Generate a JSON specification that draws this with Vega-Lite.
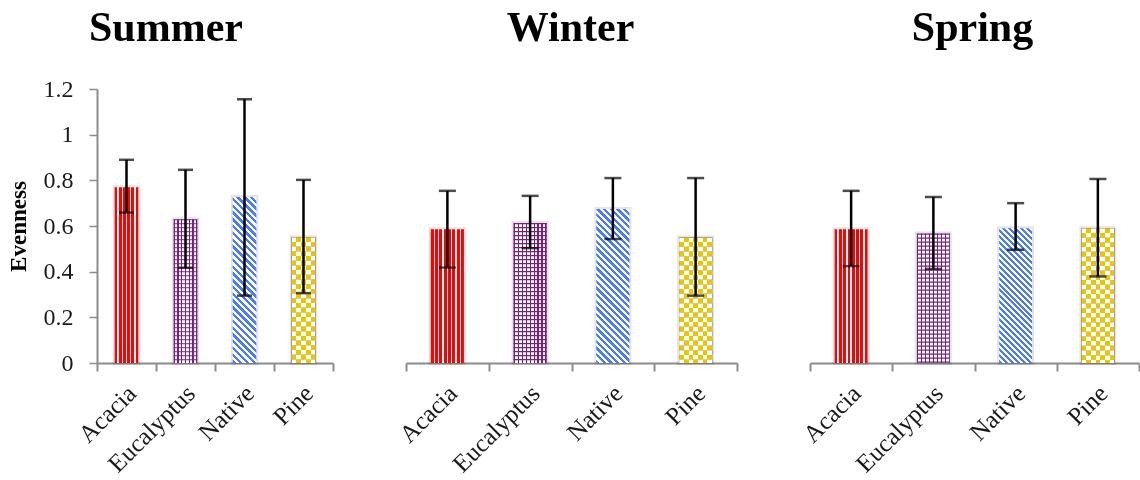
{
  "$schema": "https://vega.github.io/schema/vega-lite/v6.json",
  "background": "white",
  "padding": {"left": 7, "top": 7, "right": 0, "bottom": 0},
  "spacing": 73,
  "bounds": "flush",
  "config": {
    "view": {"stroke": null},
    "font": "Liberation Serif",
    "title": {"font": "Liberation Serif", "fontSize": 42, "fontWeight": "bold", "color": "#000000", "anchor": "middle", "frame": "group", "baseline": "alphabetic", "offset": 39},
    "axisX": {"domainColor": "#8c8c8c", "domainWidth": 2, "tickColor": "#8c8c8c", "tickWidth": 2, "tickSize": 8, "tickBand": "extent", "labelAngle": -45, "labelAlign": "right", "labelBaseline": "middle", "labelFont": "Liberation Serif", "labelFontSize": 25, "labelColor": "#1a1a1a", "labelPadding": 18, "labelOffset": 5, "title": null, "grid": false},
    "axisY": {"domainColor": "#8c8c8c", "domainWidth": 2, "tickColor": "#8c8c8c", "tickWidth": 1.5, "tickSize": 8, "labelFont": "Liberation Serif", "labelFontSize": 24, "labelColor": "#1a1a1a", "labelPadding": 16, "grid": false, "titleFont": "Liberation Serif", "titleFontWeight": "bold", "titleFontSize": 23, "titleColor": "#000000", "titlePadding": 13}
  },
  "data": {"values": [
    {"season": "Summer", "forest": "Acacia", "value": 0.77, "lo": 0.659, "hi": 0.89},
    {"season": "Summer", "forest": "Eucalyptus", "value": 0.63, "lo": 0.417, "hi": 0.846},
    {"season": "Summer", "forest": "Native", "value": 0.727, "lo": 0.295, "hi": 1.155},
    {"season": "Summer", "forest": "Pine", "value": 0.551, "lo": 0.306, "hi": 0.802},
    {"season": "Winter", "forest": "Acacia", "value": 0.586, "lo": 0.418, "hi": 0.754},
    {"season": "Winter", "forest": "Eucalyptus", "value": 0.613, "lo": 0.503, "hi": 0.732},
    {"season": "Winter", "forest": "Native", "value": 0.674, "lo": 0.543, "hi": 0.81},
    {"season": "Winter", "forest": "Pine", "value": 0.55, "lo": 0.295, "hi": 0.81},
    {"season": "Spring", "forest": "Acacia", "value": 0.586, "lo": 0.424, "hi": 0.754},
    {"season": "Spring", "forest": "Eucalyptus", "value": 0.567, "lo": 0.412, "hi": 0.727},
    {"season": "Spring", "forest": "Native", "value": 0.59, "lo": 0.496, "hi": 0.7},
    {"season": "Spring", "forest": "Pine", "value": 0.59, "lo": 0.379, "hi": 0.806}
  ]},
  "hconcat": [
    {
      "width": 236, "height": 274,
      "title": {"text": "Summer", "dx": -49, "offset": 27},
      "transform": [{"filter": "datum.season === 'Summer'"}],
      "encoding": {
        "x": {"field": "forest", "type": "nominal", "scale": {"domain": ["Acacia", "Eucalyptus", "Native", "Pine"], "paddingInner": 0, "paddingOuter": 0}},
        "y": {"field": "value", "type": "quantitative", "scale": {"domain": [0, 1.2], "nice": false}, "axis": {"title": "Evenness", "values": [0, 0.2, 0.4, 0.6, 0.8, 1, 1.2], "format": "~g"}}
      },
      "layer": [
        {"mark": {"type": "bar", "width": {"band": 0.4}, "fill": "#ffffff", "stroke": "#000000", "strokeOpacity": 0.1, "strokeWidth": 4}},
        {"transform": [{"filter": "datum.forest === 'Acacia'"}], "mark": {"type": "bar", "width": {"band": 0.4}, "fill": {"gradient": "linear", "x1": 0, "y1": 0, "x2": 1, "y2": 0, "stops": [{"offset": 0, "color": "#ff0000"}, {"offset": 0.1152, "color": "#ff0000"}, {"offset": 0.1152, "color": "#ffffff"}, {"offset": 0.177, "color": "#ffffff"}, {"offset": 0.177, "color": "#ff0000"}, {"offset": 0.2922, "color": "#ff0000"}, {"offset": 0.2922, "color": "#ffffff"}, {"offset": 0.3539, "color": "#ffffff"}, {"offset": 0.3539, "color": "#ff0000"}, {"offset": 0.4691, "color": "#ff0000"}, {"offset": 0.4691, "color": "#ffffff"}, {"offset": 0.5309, "color": "#ffffff"}, {"offset": 0.5309, "color": "#ff0000"}, {"offset": 0.6461, "color": "#ff0000"}, {"offset": 0.6461, "color": "#ffffff"}, {"offset": 0.7078, "color": "#ffffff"}, {"offset": 0.7078, "color": "#ff0000"}, {"offset": 0.823, "color": "#ff0000"}, {"offset": 0.823, "color": "#ffffff"}, {"offset": 0.8848, "color": "#ffffff"}, {"offset": 0.8848, "color": "#ff0000"}, {"offset": 1, "color": "#ff0000"}]}}},
        {"transform": [{"filter": "datum.forest === 'Eucalyptus'"}], "mark": {"type": "bar", "width": {"band": 0.4}, "fill": {"gradient": "linear", "x1": 0, "y1": 0, "x2": 1, "y2": 0, "stops": [{"offset": 0, "color": "#7a1f80"}, {"offset": 0.0508, "color": "#7a1f80"}, {"offset": 0.0508, "color": "#ffffff"}, {"offset": 0.1582, "color": "#ffffff"}, {"offset": 0.1582, "color": "#7a1f80"}, {"offset": 0.209, "color": "#7a1f80"}, {"offset": 0.209, "color": "#ffffff"}, {"offset": 0.3164, "color": "#ffffff"}, {"offset": 0.3164, "color": "#7a1f80"}, {"offset": 0.3672, "color": "#7a1f80"}, {"offset": 0.3672, "color": "#ffffff"}, {"offset": 0.4746, "color": "#ffffff"}, {"offset": 0.4746, "color": "#7a1f80"}, {"offset": 0.5254, "color": "#7a1f80"}, {"offset": 0.5254, "color": "#ffffff"}, {"offset": 0.6328, "color": "#ffffff"}, {"offset": 0.6328, "color": "#7a1f80"}, {"offset": 0.6836, "color": "#7a1f80"}, {"offset": 0.6836, "color": "#ffffff"}, {"offset": 0.791, "color": "#ffffff"}, {"offset": 0.791, "color": "#7a1f80"}, {"offset": 0.8418, "color": "#7a1f80"}, {"offset": 0.8418, "color": "#ffffff"}, {"offset": 0.9492, "color": "#ffffff"}, {"offset": 0.9492, "color": "#7a1f80"}, {"offset": 1, "color": "#7a1f80"}]}}},
        {"transform": [{"filter": "datum.forest === 'Eucalyptus'"}], "mark": {"type": "rule", "stroke": "#7a1f80", "strokeWidth": 23.6, "strokeDash": [1.2, 2.8], "strokeCap": "butt"}, "encoding": {"y2": {"datum": 0}}},
        {"transform": [{"filter": "datum.forest === 'Native'"}], "mark": {"type": "bar", "width": {"band": 0.4}, "fill": {"gradient": "linear", "x1": 0, "y1": 1, "x2": 0.1592, "y2": -0.1195, "stops": [{"offset": 0, "color": "#4a7aff"}, {"offset": 0.017857, "color": "#4a7aff"}, {"offset": 0.017857, "color": "#ffffff"}, {"offset": 0.035714, "color": "#ffffff"}, {"offset": 0.035714, "color": "#4a7aff"}, {"offset": 0.053571, "color": "#4a7aff"}, {"offset": 0.053571, "color": "#ffffff"}, {"offset": 0.071429, "color": "#ffffff"}, {"offset": 0.071429, "color": "#4a7aff"}, {"offset": 0.089286, "color": "#4a7aff"}, {"offset": 0.089286, "color": "#ffffff"}, {"offset": 0.107143, "color": "#ffffff"}, {"offset": 0.107143, "color": "#4a7aff"}, {"offset": 0.125, "color": "#4a7aff"}, {"offset": 0.125, "color": "#ffffff"}, {"offset": 0.142857, "color": "#ffffff"}, {"offset": 0.142857, "color": "#4a7aff"}, {"offset": 0.160714, "color": "#4a7aff"}, {"offset": 0.160714, "color": "#ffffff"}, {"offset": 0.178571, "color": "#ffffff"}, {"offset": 0.178571, "color": "#4a7aff"}, {"offset": 0.196429, "color": "#4a7aff"}, {"offset": 0.196429, "color": "#ffffff"}, {"offset": 0.214286, "color": "#ffffff"}, {"offset": 0.214286, "color": "#4a7aff"}, {"offset": 0.232143, "color": "#4a7aff"}, {"offset": 0.232143, "color": "#ffffff"}, {"offset": 0.25, "color": "#ffffff"}, {"offset": 0.25, "color": "#4a7aff"}, {"offset": 0.267857, "color": "#4a7aff"}, {"offset": 0.267857, "color": "#ffffff"}, {"offset": 0.285714, "color": "#ffffff"}, {"offset": 0.285714, "color": "#4a7aff"}, {"offset": 0.303571, "color": "#4a7aff"}, {"offset": 0.303571, "color": "#ffffff"}, {"offset": 0.321429, "color": "#ffffff"}, {"offset": 0.321429, "color": "#4a7aff"}, {"offset": 0.339286, "color": "#4a7aff"}, {"offset": 0.339286, "color": "#ffffff"}, {"offset": 0.357143, "color": "#ffffff"}, {"offset": 0.357143, "color": "#4a7aff"}, {"offset": 0.375, "color": "#4a7aff"}, {"offset": 0.375, "color": "#ffffff"}, {"offset": 0.392857, "color": "#ffffff"}, {"offset": 0.392857, "color": "#4a7aff"}, {"offset": 0.410714, "color": "#4a7aff"}, {"offset": 0.410714, "color": "#ffffff"}, {"offset": 0.428571, "color": "#ffffff"}, {"offset": 0.428571, "color": "#4a7aff"}, {"offset": 0.446429, "color": "#4a7aff"}, {"offset": 0.446429, "color": "#ffffff"}, {"offset": 0.464286, "color": "#ffffff"}, {"offset": 0.464286, "color": "#4a7aff"}, {"offset": 0.482143, "color": "#4a7aff"}, {"offset": 0.482143, "color": "#ffffff"}, {"offset": 0.5, "color": "#ffffff"}, {"offset": 0.5, "color": "#4a7aff"}, {"offset": 0.517857, "color": "#4a7aff"}, {"offset": 0.517857, "color": "#ffffff"}, {"offset": 0.535714, "color": "#ffffff"}, {"offset": 0.535714, "color": "#4a7aff"}, {"offset": 0.553571, "color": "#4a7aff"}, {"offset": 0.553571, "color": "#ffffff"}, {"offset": 0.571429, "color": "#ffffff"}, {"offset": 0.571429, "color": "#4a7aff"}, {"offset": 0.589286, "color": "#4a7aff"}, {"offset": 0.589286, "color": "#ffffff"}, {"offset": 0.607143, "color": "#ffffff"}, {"offset": 0.607143, "color": "#4a7aff"}, {"offset": 0.625, "color": "#4a7aff"}, {"offset": 0.625, "color": "#ffffff"}, {"offset": 0.642857, "color": "#ffffff"}, {"offset": 0.642857, "color": "#4a7aff"}, {"offset": 0.660714, "color": "#4a7aff"}, {"offset": 0.660714, "color": "#ffffff"}, {"offset": 0.678571, "color": "#ffffff"}, {"offset": 0.678571, "color": "#4a7aff"}, {"offset": 0.696429, "color": "#4a7aff"}, {"offset": 0.696429, "color": "#ffffff"}, {"offset": 0.714286, "color": "#ffffff"}, {"offset": 0.714286, "color": "#4a7aff"}, {"offset": 0.732143, "color": "#4a7aff"}, {"offset": 0.732143, "color": "#ffffff"}, {"offset": 0.75, "color": "#ffffff"}, {"offset": 0.75, "color": "#4a7aff"}, {"offset": 0.767857, "color": "#4a7aff"}, {"offset": 0.767857, "color": "#ffffff"}, {"offset": 0.785714, "color": "#ffffff"}, {"offset": 0.785714, "color": "#4a7aff"}, {"offset": 0.803571, "color": "#4a7aff"}, {"offset": 0.803571, "color": "#ffffff"}, {"offset": 0.821429, "color": "#ffffff"}, {"offset": 0.821429, "color": "#4a7aff"}, {"offset": 0.839286, "color": "#4a7aff"}, {"offset": 0.839286, "color": "#ffffff"}, {"offset": 0.857143, "color": "#ffffff"}, {"offset": 0.857143, "color": "#4a7aff"}, {"offset": 0.875, "color": "#4a7aff"}, {"offset": 0.875, "color": "#ffffff"}, {"offset": 0.892857, "color": "#ffffff"}, {"offset": 0.892857, "color": "#4a7aff"}, {"offset": 0.910714, "color": "#4a7aff"}, {"offset": 0.910714, "color": "#ffffff"}, {"offset": 0.928571, "color": "#ffffff"}, {"offset": 0.928571, "color": "#4a7aff"}, {"offset": 0.946429, "color": "#4a7aff"}, {"offset": 0.946429, "color": "#ffffff"}, {"offset": 0.964286, "color": "#ffffff"}, {"offset": 0.964286, "color": "#4a7aff"}, {"offset": 0.982143, "color": "#4a7aff"}, {"offset": 0.982143, "color": "#ffffff"}, {"offset": 1, "color": "#ffffff"}]}}},
        {"transform": [{"filter": "datum.forest === 'Pine'"}], "mark": {"type": "bar", "width": {"band": 0.4}, "fill": {"gradient": "linear", "x1": 0, "y1": 0, "x2": 1, "y2": 0, "stops": [{"offset": 0, "color": "#000000"}, {"offset": 0.2, "color": "#000000"}, {"offset": 0.2, "color": "#ffffff"}, {"offset": 0.4, "color": "#ffffff"}, {"offset": 0.4, "color": "#000000"}, {"offset": 0.6, "color": "#000000"}, {"offset": 0.6, "color": "#ffffff"}, {"offset": 0.8, "color": "#ffffff"}, {"offset": 0.8, "color": "#000000"}, {"offset": 1, "color": "#000000"}]}}},
        {"transform": [{"filter": "datum.forest === 'Pine'"}], "mark": {"type": "rule", "stroke": "#ffffff", "strokeWidth": 23.6, "strokeDash": [4.7, 4.7], "strokeCap": "butt", "blend": "difference"}, "encoding": {"y2": {"datum": 0}}},
        {"transform": [{"filter": "datum.forest === 'Pine'"}], "mark": {"type": "bar", "width": {"band": 0.4}, "fill": "#e5c800", "blend": "lighten"}},
        {"mark": {"type": "rule", "color": "#000000", "strokeWidth": 2.5}, "encoding": {"y": {"field": "lo", "type": "quantitative", "axis": {"title": "Evenness", "values": [0, 0.2, 0.4, 0.6, 0.8, 1, 1.2], "format": "~g"}}, "y2": {"field": "hi"}}},
        {"mark": {"type": "tick", "color": "#000000", "thickness": 2.5, "size": 15}, "encoding": {"y": {"field": "hi", "type": "quantitative", "axis": {"title": "Evenness", "values": [0, 0.2, 0.4, 0.6, 0.8, 1, 1.2], "format": "~g"}}}},
        {"mark": {"type": "tick", "color": "#000000", "thickness": 2.5, "size": 15}, "encoding": {"y": {"field": "lo", "type": "quantitative", "axis": {"title": "Evenness", "values": [0, 0.2, 0.4, 0.6, 0.8, 1, 1.2], "format": "~g"}}}}
      ]
    },
    {
      "width": 331, "height": 274,
      "title": {"text": "Winter", "dx": -1},
      "transform": [{"filter": "datum.season === 'Winter'"}],
      "encoding": {
        "x": {"field": "forest", "type": "nominal", "scale": {"domain": ["Acacia", "Eucalyptus", "Native", "Pine"], "paddingInner": 0, "paddingOuter": 0}},
        "y": {"field": "value", "type": "quantitative", "scale": {"domain": [0, 1.2], "nice": false}, "axis": null}
      },
      "layer": [
        {"mark": {"type": "bar", "width": {"band": 0.4}, "fill": "#ffffff", "stroke": "#000000", "strokeOpacity": 0.1, "strokeWidth": 4}},
        {"transform": [{"filter": "datum.forest === 'Acacia'"}], "mark": {"type": "bar", "width": {"band": 0.4}, "fill": {"gradient": "linear", "x1": 0, "y1": 0, "x2": 1, "y2": 0, "stops": [{"offset": 0, "color": "#ff0000"}, {"offset": 0.0851, "color": "#ff0000"}, {"offset": 0.0851, "color": "#ffffff"}, {"offset": 0.1307, "color": "#ffffff"}, {"offset": 0.1307, "color": "#ff0000"}, {"offset": 0.2158, "color": "#ff0000"}, {"offset": 0.2158, "color": "#ffffff"}, {"offset": 0.2614, "color": "#ffffff"}, {"offset": 0.2614, "color": "#ff0000"}, {"offset": 0.3465, "color": "#ff0000"}, {"offset": 0.3465, "color": "#ffffff"}, {"offset": 0.3921, "color": "#ffffff"}, {"offset": 0.3921, "color": "#ff0000"}, {"offset": 0.4772, "color": "#ff0000"}, {"offset": 0.4772, "color": "#ffffff"}, {"offset": 0.5228, "color": "#ffffff"}, {"offset": 0.5228, "color": "#ff0000"}, {"offset": 0.6079, "color": "#ff0000"}, {"offset": 0.6079, "color": "#ffffff"}, {"offset": 0.6535, "color": "#ffffff"}, {"offset": 0.6535, "color": "#ff0000"}, {"offset": 0.7386, "color": "#ff0000"}, {"offset": 0.7386, "color": "#ffffff"}, {"offset": 0.7842, "color": "#ffffff"}, {"offset": 0.7842, "color": "#ff0000"}, {"offset": 0.8693, "color": "#ff0000"}, {"offset": 0.8693, "color": "#ffffff"}, {"offset": 0.9149, "color": "#ffffff"}, {"offset": 0.9149, "color": "#ff0000"}, {"offset": 1, "color": "#ff0000"}]}}},
        {"transform": [{"filter": "datum.forest === 'Eucalyptus'"}], "mark": {"type": "bar", "width": {"band": 0.4}, "fill": {"gradient": "linear", "x1": 0, "y1": 0, "x2": 1, "y2": 0, "stops": [{"offset": 0, "color": "#7a1f80"}, {"offset": 0.0363, "color": "#7a1f80"}, {"offset": 0.0363, "color": "#ffffff"}, {"offset": 0.1205, "color": "#ffffff"}, {"offset": 0.1205, "color": "#7a1f80"}, {"offset": 0.1567, "color": "#7a1f80"}, {"offset": 0.1567, "color": "#ffffff"}, {"offset": 0.2409, "color": "#ffffff"}, {"offset": 0.2409, "color": "#7a1f80"}, {"offset": 0.2772, "color": "#7a1f80"}, {"offset": 0.2772, "color": "#ffffff"}, {"offset": 0.3614, "color": "#ffffff"}, {"offset": 0.3614, "color": "#7a1f80"}, {"offset": 0.3977, "color": "#7a1f80"}, {"offset": 0.3977, "color": "#ffffff"}, {"offset": 0.4819, "color": "#ffffff"}, {"offset": 0.4819, "color": "#7a1f80"}, {"offset": 0.5181, "color": "#7a1f80"}, {"offset": 0.5181, "color": "#ffffff"}, {"offset": 0.6024, "color": "#ffffff"}, {"offset": 0.6024, "color": "#7a1f80"}, {"offset": 0.6386, "color": "#7a1f80"}, {"offset": 0.6386, "color": "#ffffff"}, {"offset": 0.7228, "color": "#ffffff"}, {"offset": 0.7228, "color": "#7a1f80"}, {"offset": 0.7591, "color": "#7a1f80"}, {"offset": 0.7591, "color": "#ffffff"}, {"offset": 0.8433, "color": "#ffffff"}, {"offset": 0.8433, "color": "#7a1f80"}, {"offset": 0.8795, "color": "#7a1f80"}, {"offset": 0.8795, "color": "#ffffff"}, {"offset": 0.9637, "color": "#ffffff"}, {"offset": 0.9637, "color": "#7a1f80"}, {"offset": 1, "color": "#7a1f80"}]}}},
        {"transform": [{"filter": "datum.forest === 'Eucalyptus'"}], "mark": {"type": "rule", "stroke": "#7a1f80", "strokeWidth": 33.1, "strokeDash": [1.2, 2.8], "strokeCap": "butt"}, "encoding": {"y2": {"datum": 0}}},
        {"transform": [{"filter": "datum.forest === 'Native'"}], "mark": {"type": "bar", "width": {"band": 0.4}, "fill": {"gradient": "linear", "x1": 0, "y1": 1, "x2": 0.2498, "y2": -0.1613, "stops": [{"offset": 0, "color": "#4a7aff"}, {"offset": 0.017857, "color": "#4a7aff"}, {"offset": 0.017857, "color": "#ffffff"}, {"offset": 0.035714, "color": "#ffffff"}, {"offset": 0.035714, "color": "#4a7aff"}, {"offset": 0.053571, "color": "#4a7aff"}, {"offset": 0.053571, "color": "#ffffff"}, {"offset": 0.071429, "color": "#ffffff"}, {"offset": 0.071429, "color": "#4a7aff"}, {"offset": 0.089286, "color": "#4a7aff"}, {"offset": 0.089286, "color": "#ffffff"}, {"offset": 0.107143, "color": "#ffffff"}, {"offset": 0.107143, "color": "#4a7aff"}, {"offset": 0.125, "color": "#4a7aff"}, {"offset": 0.125, "color": "#ffffff"}, {"offset": 0.142857, "color": "#ffffff"}, {"offset": 0.142857, "color": "#4a7aff"}, {"offset": 0.160714, "color": "#4a7aff"}, {"offset": 0.160714, "color": "#ffffff"}, {"offset": 0.178571, "color": "#ffffff"}, {"offset": 0.178571, "color": "#4a7aff"}, {"offset": 0.196429, "color": "#4a7aff"}, {"offset": 0.196429, "color": "#ffffff"}, {"offset": 0.214286, "color": "#ffffff"}, {"offset": 0.214286, "color": "#4a7aff"}, {"offset": 0.232143, "color": "#4a7aff"}, {"offset": 0.232143, "color": "#ffffff"}, {"offset": 0.25, "color": "#ffffff"}, {"offset": 0.25, "color": "#4a7aff"}, {"offset": 0.267857, "color": "#4a7aff"}, {"offset": 0.267857, "color": "#ffffff"}, {"offset": 0.285714, "color": "#ffffff"}, {"offset": 0.285714, "color": "#4a7aff"}, {"offset": 0.303571, "color": "#4a7aff"}, {"offset": 0.303571, "color": "#ffffff"}, {"offset": 0.321429, "color": "#ffffff"}, {"offset": 0.321429, "color": "#4a7aff"}, {"offset": 0.339286, "color": "#4a7aff"}, {"offset": 0.339286, "color": "#ffffff"}, {"offset": 0.357143, "color": "#ffffff"}, {"offset": 0.357143, "color": "#4a7aff"}, {"offset": 0.375, "color": "#4a7aff"}, {"offset": 0.375, "color": "#ffffff"}, {"offset": 0.392857, "color": "#ffffff"}, {"offset": 0.392857, "color": "#4a7aff"}, {"offset": 0.410714, "color": "#4a7aff"}, {"offset": 0.410714, "color": "#ffffff"}, {"offset": 0.428571, "color": "#ffffff"}, {"offset": 0.428571, "color": "#4a7aff"}, {"offset": 0.446429, "color": "#4a7aff"}, {"offset": 0.446429, "color": "#ffffff"}, {"offset": 0.464286, "color": "#ffffff"}, {"offset": 0.464286, "color": "#4a7aff"}, {"offset": 0.482143, "color": "#4a7aff"}, {"offset": 0.482143, "color": "#ffffff"}, {"offset": 0.5, "color": "#ffffff"}, {"offset": 0.5, "color": "#4a7aff"}, {"offset": 0.517857, "color": "#4a7aff"}, {"offset": 0.517857, "color": "#ffffff"}, {"offset": 0.535714, "color": "#ffffff"}, {"offset": 0.535714, "color": "#4a7aff"}, {"offset": 0.553571, "color": "#4a7aff"}, {"offset": 0.553571, "color": "#ffffff"}, {"offset": 0.571429, "color": "#ffffff"}, {"offset": 0.571429, "color": "#4a7aff"}, {"offset": 0.589286, "color": "#4a7aff"}, {"offset": 0.589286, "color": "#ffffff"}, {"offset": 0.607143, "color": "#ffffff"}, {"offset": 0.607143, "color": "#4a7aff"}, {"offset": 0.625, "color": "#4a7aff"}, {"offset": 0.625, "color": "#ffffff"}, {"offset": 0.642857, "color": "#ffffff"}, {"offset": 0.642857, "color": "#4a7aff"}, {"offset": 0.660714, "color": "#4a7aff"}, {"offset": 0.660714, "color": "#ffffff"}, {"offset": 0.678571, "color": "#ffffff"}, {"offset": 0.678571, "color": "#4a7aff"}, {"offset": 0.696429, "color": "#4a7aff"}, {"offset": 0.696429, "color": "#ffffff"}, {"offset": 0.714286, "color": "#ffffff"}, {"offset": 0.714286, "color": "#4a7aff"}, {"offset": 0.732143, "color": "#4a7aff"}, {"offset": 0.732143, "color": "#ffffff"}, {"offset": 0.75, "color": "#ffffff"}, {"offset": 0.75, "color": "#4a7aff"}, {"offset": 0.767857, "color": "#4a7aff"}, {"offset": 0.767857, "color": "#ffffff"}, {"offset": 0.785714, "color": "#ffffff"}, {"offset": 0.785714, "color": "#4a7aff"}, {"offset": 0.803571, "color": "#4a7aff"}, {"offset": 0.803571, "color": "#ffffff"}, {"offset": 0.821429, "color": "#ffffff"}, {"offset": 0.821429, "color": "#4a7aff"}, {"offset": 0.839286, "color": "#4a7aff"}, {"offset": 0.839286, "color": "#ffffff"}, {"offset": 0.857143, "color": "#ffffff"}, {"offset": 0.857143, "color": "#4a7aff"}, {"offset": 0.875, "color": "#4a7aff"}, {"offset": 0.875, "color": "#ffffff"}, {"offset": 0.892857, "color": "#ffffff"}, {"offset": 0.892857, "color": "#4a7aff"}, {"offset": 0.910714, "color": "#4a7aff"}, {"offset": 0.910714, "color": "#ffffff"}, {"offset": 0.928571, "color": "#ffffff"}, {"offset": 0.928571, "color": "#4a7aff"}, {"offset": 0.946429, "color": "#4a7aff"}, {"offset": 0.946429, "color": "#ffffff"}, {"offset": 0.964286, "color": "#ffffff"}, {"offset": 0.964286, "color": "#4a7aff"}, {"offset": 0.982143, "color": "#4a7aff"}, {"offset": 0.982143, "color": "#ffffff"}, {"offset": 1, "color": "#ffffff"}]}}},
        {"transform": [{"filter": "datum.forest === 'Pine'"}], "mark": {"type": "bar", "width": {"band": 0.4}, "fill": {"gradient": "linear", "x1": 0, "y1": 0, "x2": 1, "y2": 0, "stops": [{"offset": 0, "color": "#000000"}, {"offset": 0.142857, "color": "#000000"}, {"offset": 0.142857, "color": "#ffffff"}, {"offset": 0.285714, "color": "#ffffff"}, {"offset": 0.285714, "color": "#000000"}, {"offset": 0.428571, "color": "#000000"}, {"offset": 0.428571, "color": "#ffffff"}, {"offset": 0.571429, "color": "#ffffff"}, {"offset": 0.571429, "color": "#000000"}, {"offset": 0.714286, "color": "#000000"}, {"offset": 0.714286, "color": "#ffffff"}, {"offset": 0.857143, "color": "#ffffff"}, {"offset": 0.857143, "color": "#000000"}, {"offset": 1, "color": "#000000"}]}}},
        {"transform": [{"filter": "datum.forest === 'Pine'"}], "mark": {"type": "rule", "stroke": "#ffffff", "strokeWidth": 33.1, "strokeDash": [4.7, 4.7], "strokeCap": "butt", "blend": "difference"}, "encoding": {"y2": {"datum": 0}}},
        {"transform": [{"filter": "datum.forest === 'Pine'"}], "mark": {"type": "bar", "width": {"band": 0.4}, "fill": "#e5c800", "blend": "lighten"}},
        {"mark": {"type": "rule", "color": "#000000", "strokeWidth": 2.5}, "encoding": {"y": {"field": "lo", "type": "quantitative", "axis": null}, "y2": {"field": "hi"}}},
        {"mark": {"type": "tick", "color": "#000000", "thickness": 2.5, "size": 17}, "encoding": {"y": {"field": "hi", "type": "quantitative", "axis": null}}},
        {"mark": {"type": "tick", "color": "#000000", "thickness": 2.5, "size": 17}, "encoding": {"y": {"field": "lo", "type": "quantitative", "axis": null}}}
      ]
    },
    {
      "width": 329, "height": 274,
      "title": {"text": "Spring", "dx": -2},
      "transform": [{"filter": "datum.season === 'Spring'"}],
      "encoding": {
        "x": {"field": "forest", "type": "nominal", "scale": {"domain": ["Acacia", "Eucalyptus", "Native", "Pine"], "paddingInner": 0, "paddingOuter": 0}},
        "y": {"field": "value", "type": "quantitative", "scale": {"domain": [0, 1.2], "nice": false}, "axis": null}
      },
      "layer": [
        {"mark": {"type": "bar", "width": {"band": 0.4}, "fill": "#ffffff", "stroke": "#000000", "strokeOpacity": 0.1, "strokeWidth": 4}},
        {"transform": [{"filter": "datum.forest === 'Acacia'"}], "mark": {"type": "bar", "width": {"band": 0.4}, "fill": {"gradient": "linear", "x1": 0, "y1": 0, "x2": 1, "y2": 0, "stops": [{"offset": 0, "color": "#ff0000"}, {"offset": 0.0851, "color": "#ff0000"}, {"offset": 0.0851, "color": "#ffffff"}, {"offset": 0.1307, "color": "#ffffff"}, {"offset": 0.1307, "color": "#ff0000"}, {"offset": 0.2158, "color": "#ff0000"}, {"offset": 0.2158, "color": "#ffffff"}, {"offset": 0.2614, "color": "#ffffff"}, {"offset": 0.2614, "color": "#ff0000"}, {"offset": 0.3465, "color": "#ff0000"}, {"offset": 0.3465, "color": "#ffffff"}, {"offset": 0.3921, "color": "#ffffff"}, {"offset": 0.3921, "color": "#ff0000"}, {"offset": 0.4772, "color": "#ff0000"}, {"offset": 0.4772, "color": "#ffffff"}, {"offset": 0.5228, "color": "#ffffff"}, {"offset": 0.5228, "color": "#ff0000"}, {"offset": 0.6079, "color": "#ff0000"}, {"offset": 0.6079, "color": "#ffffff"}, {"offset": 0.6535, "color": "#ffffff"}, {"offset": 0.6535, "color": "#ff0000"}, {"offset": 0.7386, "color": "#ff0000"}, {"offset": 0.7386, "color": "#ffffff"}, {"offset": 0.7842, "color": "#ffffff"}, {"offset": 0.7842, "color": "#ff0000"}, {"offset": 0.8693, "color": "#ff0000"}, {"offset": 0.8693, "color": "#ffffff"}, {"offset": 0.9149, "color": "#ffffff"}, {"offset": 0.9149, "color": "#ff0000"}, {"offset": 1, "color": "#ff0000"}]}}},
        {"transform": [{"filter": "datum.forest === 'Eucalyptus'"}], "mark": {"type": "bar", "width": {"band": 0.4}, "fill": {"gradient": "linear", "x1": 0, "y1": 0, "x2": 1, "y2": 0, "stops": [{"offset": 0, "color": "#7a1f80"}, {"offset": 0.0363, "color": "#7a1f80"}, {"offset": 0.0363, "color": "#ffffff"}, {"offset": 0.1205, "color": "#ffffff"}, {"offset": 0.1205, "color": "#7a1f80"}, {"offset": 0.1567, "color": "#7a1f80"}, {"offset": 0.1567, "color": "#ffffff"}, {"offset": 0.2409, "color": "#ffffff"}, {"offset": 0.2409, "color": "#7a1f80"}, {"offset": 0.2772, "color": "#7a1f80"}, {"offset": 0.2772, "color": "#ffffff"}, {"offset": 0.3614, "color": "#ffffff"}, {"offset": 0.3614, "color": "#7a1f80"}, {"offset": 0.3977, "color": "#7a1f80"}, {"offset": 0.3977, "color": "#ffffff"}, {"offset": 0.4819, "color": "#ffffff"}, {"offset": 0.4819, "color": "#7a1f80"}, {"offset": 0.5181, "color": "#7a1f80"}, {"offset": 0.5181, "color": "#ffffff"}, {"offset": 0.6024, "color": "#ffffff"}, {"offset": 0.6024, "color": "#7a1f80"}, {"offset": 0.6386, "color": "#7a1f80"}, {"offset": 0.6386, "color": "#ffffff"}, {"offset": 0.7228, "color": "#ffffff"}, {"offset": 0.7228, "color": "#7a1f80"}, {"offset": 0.7591, "color": "#7a1f80"}, {"offset": 0.7591, "color": "#ffffff"}, {"offset": 0.8433, "color": "#ffffff"}, {"offset": 0.8433, "color": "#7a1f80"}, {"offset": 0.8795, "color": "#7a1f80"}, {"offset": 0.8795, "color": "#ffffff"}, {"offset": 0.9637, "color": "#ffffff"}, {"offset": 0.9637, "color": "#7a1f80"}, {"offset": 1, "color": "#7a1f80"}]}}},
        {"transform": [{"filter": "datum.forest === 'Eucalyptus'"}], "mark": {"type": "rule", "stroke": "#7a1f80", "strokeWidth": 32.9, "strokeDash": [1.2, 2.8], "strokeCap": "butt"}, "encoding": {"y2": {"datum": 0}}},
        {"transform": [{"filter": "datum.forest === 'Native'"}], "mark": {"type": "bar", "width": {"band": 0.4}, "fill": {"gradient": "linear", "x1": 0, "y1": 1, "x2": 0.2868, "y2": -0.1742, "stops": [{"offset": 0, "color": "#4a7aff"}, {"offset": 0.017857, "color": "#4a7aff"}, {"offset": 0.017857, "color": "#ffffff"}, {"offset": 0.035714, "color": "#ffffff"}, {"offset": 0.035714, "color": "#4a7aff"}, {"offset": 0.053571, "color": "#4a7aff"}, {"offset": 0.053571, "color": "#ffffff"}, {"offset": 0.071429, "color": "#ffffff"}, {"offset": 0.071429, "color": "#4a7aff"}, {"offset": 0.089286, "color": "#4a7aff"}, {"offset": 0.089286, "color": "#ffffff"}, {"offset": 0.107143, "color": "#ffffff"}, {"offset": 0.107143, "color": "#4a7aff"}, {"offset": 0.125, "color": "#4a7aff"}, {"offset": 0.125, "color": "#ffffff"}, {"offset": 0.142857, "color": "#ffffff"}, {"offset": 0.142857, "color": "#4a7aff"}, {"offset": 0.160714, "color": "#4a7aff"}, {"offset": 0.160714, "color": "#ffffff"}, {"offset": 0.178571, "color": "#ffffff"}, {"offset": 0.178571, "color": "#4a7aff"}, {"offset": 0.196429, "color": "#4a7aff"}, {"offset": 0.196429, "color": "#ffffff"}, {"offset": 0.214286, "color": "#ffffff"}, {"offset": 0.214286, "color": "#4a7aff"}, {"offset": 0.232143, "color": "#4a7aff"}, {"offset": 0.232143, "color": "#ffffff"}, {"offset": 0.25, "color": "#ffffff"}, {"offset": 0.25, "color": "#4a7aff"}, {"offset": 0.267857, "color": "#4a7aff"}, {"offset": 0.267857, "color": "#ffffff"}, {"offset": 0.285714, "color": "#ffffff"}, {"offset": 0.285714, "color": "#4a7aff"}, {"offset": 0.303571, "color": "#4a7aff"}, {"offset": 0.303571, "color": "#ffffff"}, {"offset": 0.321429, "color": "#ffffff"}, {"offset": 0.321429, "color": "#4a7aff"}, {"offset": 0.339286, "color": "#4a7aff"}, {"offset": 0.339286, "color": "#ffffff"}, {"offset": 0.357143, "color": "#ffffff"}, {"offset": 0.357143, "color": "#4a7aff"}, {"offset": 0.375, "color": "#4a7aff"}, {"offset": 0.375, "color": "#ffffff"}, {"offset": 0.392857, "color": "#ffffff"}, {"offset": 0.392857, "color": "#4a7aff"}, {"offset": 0.410714, "color": "#4a7aff"}, {"offset": 0.410714, "color": "#ffffff"}, {"offset": 0.428571, "color": "#ffffff"}, {"offset": 0.428571, "color": "#4a7aff"}, {"offset": 0.446429, "color": "#4a7aff"}, {"offset": 0.446429, "color": "#ffffff"}, {"offset": 0.464286, "color": "#ffffff"}, {"offset": 0.464286, "color": "#4a7aff"}, {"offset": 0.482143, "color": "#4a7aff"}, {"offset": 0.482143, "color": "#ffffff"}, {"offset": 0.5, "color": "#ffffff"}, {"offset": 0.5, "color": "#4a7aff"}, {"offset": 0.517857, "color": "#4a7aff"}, {"offset": 0.517857, "color": "#ffffff"}, {"offset": 0.535714, "color": "#ffffff"}, {"offset": 0.535714, "color": "#4a7aff"}, {"offset": 0.553571, "color": "#4a7aff"}, {"offset": 0.553571, "color": "#ffffff"}, {"offset": 0.571429, "color": "#ffffff"}, {"offset": 0.571429, "color": "#4a7aff"}, {"offset": 0.589286, "color": "#4a7aff"}, {"offset": 0.589286, "color": "#ffffff"}, {"offset": 0.607143, "color": "#ffffff"}, {"offset": 0.607143, "color": "#4a7aff"}, {"offset": 0.625, "color": "#4a7aff"}, {"offset": 0.625, "color": "#ffffff"}, {"offset": 0.642857, "color": "#ffffff"}, {"offset": 0.642857, "color": "#4a7aff"}, {"offset": 0.660714, "color": "#4a7aff"}, {"offset": 0.660714, "color": "#ffffff"}, {"offset": 0.678571, "color": "#ffffff"}, {"offset": 0.678571, "color": "#4a7aff"}, {"offset": 0.696429, "color": "#4a7aff"}, {"offset": 0.696429, "color": "#ffffff"}, {"offset": 0.714286, "color": "#ffffff"}, {"offset": 0.714286, "color": "#4a7aff"}, {"offset": 0.732143, "color": "#4a7aff"}, {"offset": 0.732143, "color": "#ffffff"}, {"offset": 0.75, "color": "#ffffff"}, {"offset": 0.75, "color": "#4a7aff"}, {"offset": 0.767857, "color": "#4a7aff"}, {"offset": 0.767857, "color": "#ffffff"}, {"offset": 0.785714, "color": "#ffffff"}, {"offset": 0.785714, "color": "#4a7aff"}, {"offset": 0.803571, "color": "#4a7aff"}, {"offset": 0.803571, "color": "#ffffff"}, {"offset": 0.821429, "color": "#ffffff"}, {"offset": 0.821429, "color": "#4a7aff"}, {"offset": 0.839286, "color": "#4a7aff"}, {"offset": 0.839286, "color": "#ffffff"}, {"offset": 0.857143, "color": "#ffffff"}, {"offset": 0.857143, "color": "#4a7aff"}, {"offset": 0.875, "color": "#4a7aff"}, {"offset": 0.875, "color": "#ffffff"}, {"offset": 0.892857, "color": "#ffffff"}, {"offset": 0.892857, "color": "#4a7aff"}, {"offset": 0.910714, "color": "#4a7aff"}, {"offset": 0.910714, "color": "#ffffff"}, {"offset": 0.928571, "color": "#ffffff"}, {"offset": 0.928571, "color": "#4a7aff"}, {"offset": 0.946429, "color": "#4a7aff"}, {"offset": 0.946429, "color": "#ffffff"}, {"offset": 0.964286, "color": "#ffffff"}, {"offset": 0.964286, "color": "#4a7aff"}, {"offset": 0.982143, "color": "#4a7aff"}, {"offset": 0.982143, "color": "#ffffff"}, {"offset": 1, "color": "#ffffff"}]}}},
        {"transform": [{"filter": "datum.forest === 'Pine'"}], "mark": {"type": "bar", "width": {"band": 0.4}, "fill": {"gradient": "linear", "x1": 0, "y1": 0, "x2": 1, "y2": 0, "stops": [{"offset": 0, "color": "#000000"}, {"offset": 0.142857, "color": "#000000"}, {"offset": 0.142857, "color": "#ffffff"}, {"offset": 0.285714, "color": "#ffffff"}, {"offset": 0.285714, "color": "#000000"}, {"offset": 0.428571, "color": "#000000"}, {"offset": 0.428571, "color": "#ffffff"}, {"offset": 0.571429, "color": "#ffffff"}, {"offset": 0.571429, "color": "#000000"}, {"offset": 0.714286, "color": "#000000"}, {"offset": 0.714286, "color": "#ffffff"}, {"offset": 0.857143, "color": "#ffffff"}, {"offset": 0.857143, "color": "#000000"}, {"offset": 1, "color": "#000000"}]}}},
        {"transform": [{"filter": "datum.forest === 'Pine'"}], "mark": {"type": "rule", "stroke": "#ffffff", "strokeWidth": 32.9, "strokeDash": [4.7, 4.7], "strokeCap": "butt", "blend": "difference"}, "encoding": {"y2": {"datum": 0}}},
        {"transform": [{"filter": "datum.forest === 'Pine'"}], "mark": {"type": "bar", "width": {"band": 0.4}, "fill": "#e5c800", "blend": "lighten"}},
        {"mark": {"type": "rule", "color": "#000000", "strokeWidth": 2.5}, "encoding": {"y": {"field": "lo", "type": "quantitative", "axis": null}, "y2": {"field": "hi"}}},
        {"mark": {"type": "tick", "color": "#000000", "thickness": 2.5, "size": 17}, "encoding": {"y": {"field": "hi", "type": "quantitative", "axis": null}}},
        {"mark": {"type": "tick", "color": "#000000", "thickness": 2.5, "size": 17}, "encoding": {"y": {"field": "lo", "type": "quantitative", "axis": null}}}
      ]
    }
  ]
}
